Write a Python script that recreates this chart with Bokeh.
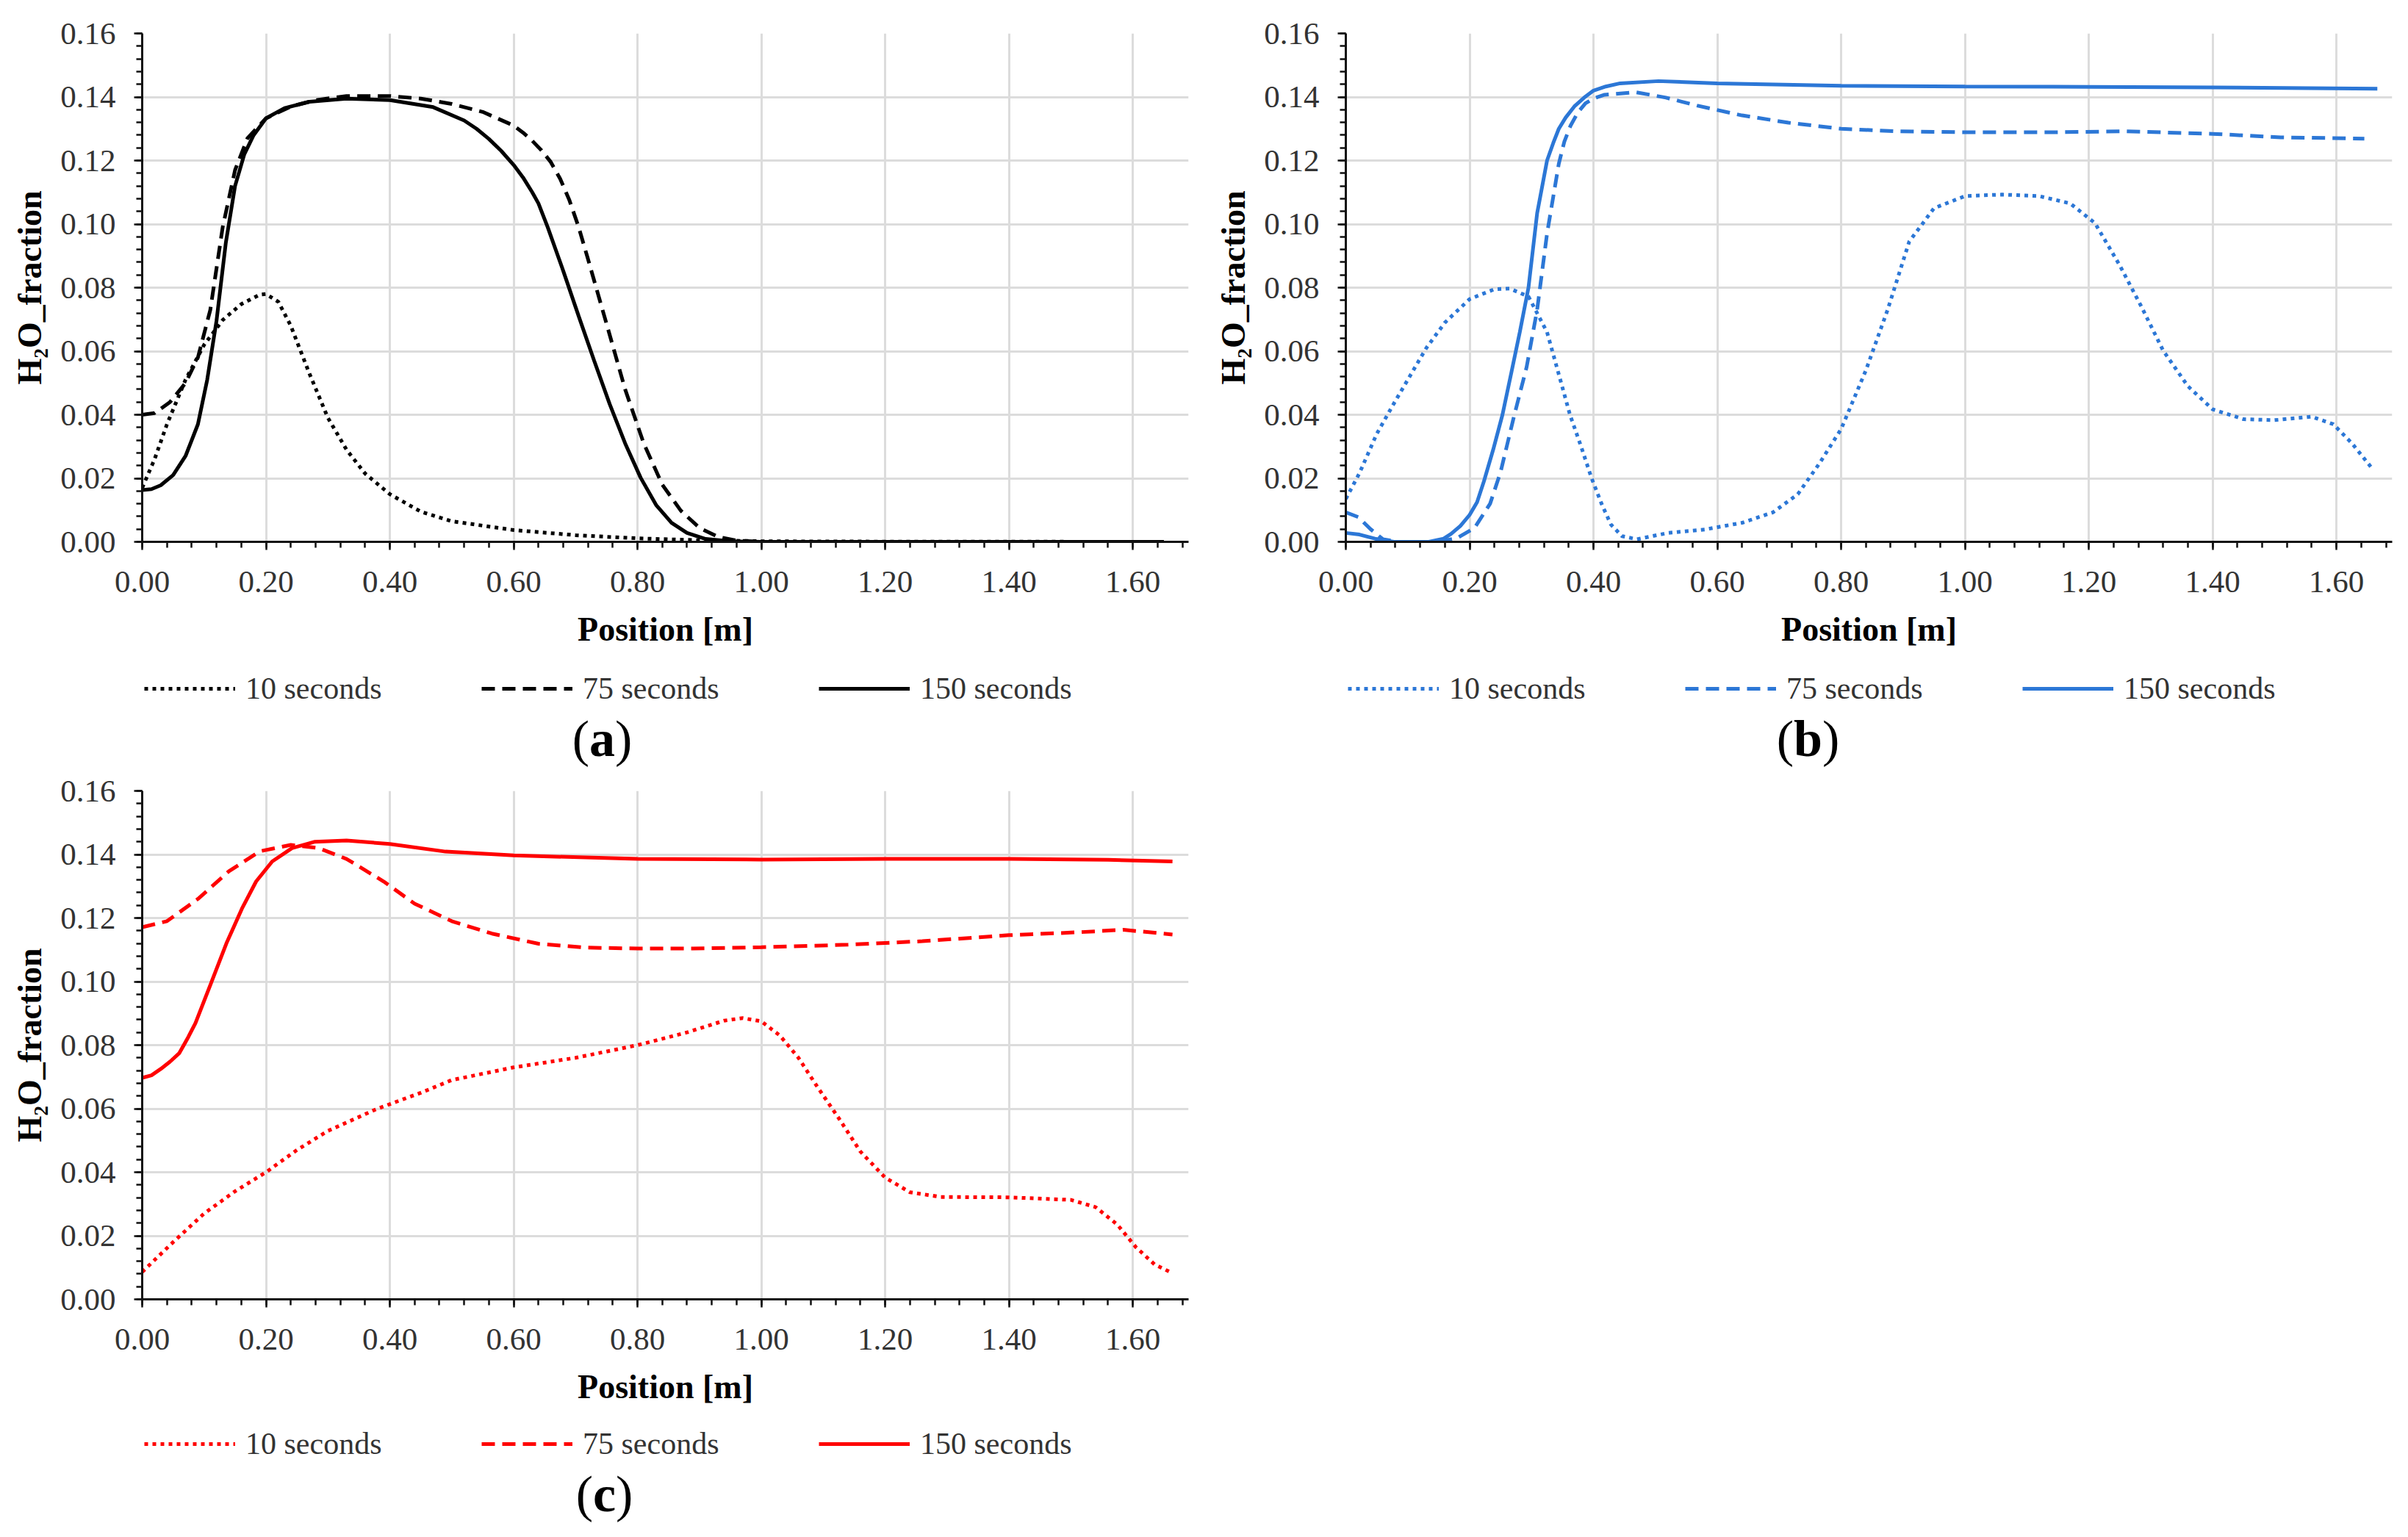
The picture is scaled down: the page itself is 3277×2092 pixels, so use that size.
from bokeh.plotting import figure
from bokeh.models import (Range1d, SingleIntervalTicker, NumeralTickFormatter,
                          Legend, LegendItem)
from bokeh.layouts import column, row
from bokeh.core.properties import value
from bokeh.embed import file_html
from bokeh.resources import INLINE

# ---------------- data ----------------
series_labels = ["10 seconds", "75 seconds", "150 seconds"]
x_ticks_interval = 0.2
y_ticks_interval = 0.02

# panel (a)
xa_10 = [0, 0.02, 0.04, 0.07, 0.10, 0.13, 0.16, 0.19, 0.20, 0.22, 0.24, 0.27, 0.30, 0.33, 0.36,
         0.40, 0.45, 0.50, 0.60, 0.70, 0.80, 0.90, 1.00, 1.10, 1.65]
ya_10 = [0.017, 0.026, 0.037, 0.051, 0.062, 0.0698, 0.0748, 0.0778, 0.078, 0.0755, 0.068, 0.053,
         0.039, 0.029, 0.0215, 0.015, 0.0095, 0.0065, 0.0037, 0.0021, 0.0011, 0.0005, 0.0002, 0.0001, 0.0]
xa_75 = [0, 0.02, 0.045, 0.07, 0.09, 0.11, 0.13, 0.15, 0.17, 0.20, 0.24, 0.28, 0.33, 0.40, 0.45,
         0.50, 0.55, 0.60, 0.615, 0.63, 0.645, 0.66, 0.675, 0.69, 0.705, 0.72, 0.75, 0.78, 0.81,
         0.84, 0.87, 0.90, 0.93, 0.96, 1.00, 1.65]
ya_75 = [0.040, 0.0405, 0.044, 0.050, 0.058, 0.073, 0.099, 0.117, 0.127, 0.1333, 0.137, 0.139,
         0.1403, 0.1403, 0.1395, 0.1378, 0.1353, 0.131, 0.1288, 0.1262, 0.1232, 0.1195, 0.1143,
         0.1075, 0.099, 0.089, 0.0686, 0.048, 0.031, 0.018, 0.0098, 0.0044, 0.0016, 0.0004, 0.0, 0.0]
xa_150 = [0, 0.015, 0.03, 0.05, 0.07, 0.09, 0.105, 0.12, 0.135, 0.15, 0.165, 0.18, 0.20, 0.23,
          0.27, 0.33, 0.40, 0.47, 0.52, 0.54, 0.56, 0.58, 0.60, 0.615, 0.63, 0.64, 0.655, 0.68,
          0.705, 0.73, 0.755, 0.78, 0.805, 0.83, 0.855, 0.88, 0.91, 0.95, 1.00, 1.65]
ya_150 = [0.0163, 0.0166, 0.0178, 0.021, 0.027, 0.037, 0.051, 0.0695, 0.094, 0.112, 0.122, 0.128,
          0.1333, 0.1365, 0.1385, 0.1395, 0.139, 0.1368, 0.1326, 0.130, 0.1268, 0.123, 0.1186,
          0.1147, 0.110, 0.1065, 0.099, 0.0853, 0.071, 0.057, 0.0434, 0.031, 0.0202, 0.0116,
          0.006, 0.0028, 0.0009, 0.0002, 0.0, 0.0]

# panel (b)
xb_10 = [0, 0.022, 0.05, 0.076, 0.10, 0.13, 0.16, 0.20, 0.24, 0.265, 0.295, 0.325, 0.345, 0.362,
         0.38, 0.397, 0.413, 0.428, 0.446, 0.47, 0.52, 0.58, 0.64, 0.69, 0.73, 0.765, 0.80, 0.84,
         0.875, 0.91, 0.95, 1.00, 1.06, 1.12, 1.17, 1.21, 1.25, 1.285, 1.32, 1.36, 1.40, 1.45,
         1.50, 1.56, 1.595, 1.625, 1.658]
yb_10 = [0.0135, 0.0216, 0.034, 0.043, 0.051, 0.061, 0.069, 0.0764, 0.0795, 0.0797, 0.0772, 0.066,
         0.052, 0.040, 0.030, 0.020, 0.012, 0.0055, 0.0018, 0.0008, 0.0028, 0.0039, 0.006, 0.0093,
         0.015, 0.0247, 0.0355, 0.054, 0.073, 0.0945, 0.105, 0.1088, 0.1093, 0.1088, 0.1065,
         0.1003, 0.087, 0.074, 0.0602, 0.049, 0.0417, 0.0386, 0.0383, 0.0394, 0.037, 0.031, 0.023]
xb_75 = [0, 0.02, 0.04, 0.06, 0.085, 0.15, 0.18, 0.208, 0.233, 0.25, 0.271, 0.292, 0.309, 0.325,
         0.344, 0.353, 0.363, 0.375, 0.387, 0.40, 0.418, 0.468, 0.517, 0.567, 0.64, 0.715, 0.80,
         0.89, 1.00, 1.14, 1.26, 1.40, 1.51, 1.645]
yb_75 = [0.0093, 0.0078, 0.004, 0.0008, 0.0, 0.0, 0.0012, 0.0044, 0.012, 0.022, 0.039, 0.055,
         0.073, 0.097, 0.119, 0.126, 0.131, 0.1352, 0.138, 0.1395, 0.1407, 0.1415, 0.1398, 0.1373,
         0.1342, 0.1319, 0.130, 0.1292, 0.1289, 0.1289, 0.1292, 0.1284, 0.1273, 0.1269]
xb_150 = [0, 0.022, 0.047, 0.078, 0.134, 0.158, 0.17, 0.185, 0.20, 0.212, 0.223, 0.238, 0.253,
          0.266, 0.281, 0.295, 0.309, 0.325, 0.335, 0.344, 0.355, 0.369, 0.385, 0.40, 0.42,
          0.443, 0.505, 0.60, 0.80, 1.00, 1.20, 1.40, 1.666]
yb_150 = [0.0028, 0.0023, 0.001, 0.0, 0.0, 0.001, 0.0025, 0.005, 0.0085, 0.0125, 0.019, 0.029,
          0.040, 0.052, 0.066, 0.080, 0.1034, 0.120, 0.1255, 0.130, 0.1335, 0.137, 0.1398, 0.142,
          0.1433, 0.1443, 0.145, 0.1443, 0.1435, 0.1433, 0.1432, 0.143, 0.1426]

# panel (c)
xc_10 = [0, 0.05, 0.10, 0.15, 0.20, 0.25, 0.30, 0.38, 0.45, 0.50, 0.60, 0.70, 0.80, 0.88, 0.94,
         0.97, 1.00, 1.03, 1.06, 1.09, 1.125, 1.16, 1.20, 1.24, 1.29, 1.40, 1.50, 1.54, 1.575,
         1.605, 1.635, 1.66]
yc_10 = [0.0086, 0.018, 0.027, 0.034, 0.040, 0.047, 0.053, 0.060, 0.065, 0.069, 0.073, 0.076,
         0.080, 0.084, 0.0877, 0.0885, 0.0875, 0.083, 0.076, 0.067, 0.057, 0.0465, 0.0383, 0.0337,
         0.0322, 0.0321, 0.0313, 0.029, 0.0235, 0.0164, 0.011, 0.0086]
xc_75 = [0, 0.04, 0.09, 0.14, 0.19, 0.24, 0.285, 0.33, 0.39, 0.44, 0.50, 0.565, 0.64, 0.715, 0.80,
         0.89, 1.00, 1.14, 1.26, 1.40, 1.51, 1.585, 1.664]
yc_75 = [0.1171, 0.119, 0.126, 0.1347, 0.141, 0.143, 0.142, 0.1386, 0.1315, 0.1245, 0.119, 0.1151,
         0.1119, 0.1107, 0.1104, 0.1104, 0.1108, 0.1116, 0.1127, 0.1146, 0.1155, 0.1163, 0.1148]
xc_150 = [0, 0.015, 0.03, 0.045, 0.06, 0.073, 0.086, 0.111, 0.136, 0.161, 0.184, 0.21, 0.242,
          0.279, 0.33, 0.40, 0.49, 0.60, 0.80, 1.00, 1.20, 1.40, 1.56, 1.664]
yc_150 = [0.0697, 0.0705, 0.0725, 0.0748, 0.0775, 0.082, 0.0869, 0.0994, 0.112, 0.1229, 0.1315,
          0.1378, 0.142, 0.144, 0.1444, 0.1433, 0.1409, 0.1397, 0.1386, 0.1384, 0.1386, 0.1386,
          0.1383, 0.1378]

panel_letters = ["a", "b", "c"]
panel_colors = ["#000000", "#2c77d6", "#ff0000"]
panel_series = [
    [(xa_10, ya_10), (xa_75, ya_75), (xa_150, ya_150)],
    [(xb_10, yb_10), (xb_75, yb_75), (xb_150, yb_150)],
    [(xc_10, yc_10), (xc_75, yc_75), (xc_150, yc_150)],
]

# ---------------- styling ----------------
FONT = "Liberation Serif"
DASHES = ["5 6", "18 10", "solid"]
LINE_W = 5
FRAME_W, FRAME_H = 1424, 692
X_MAX, Y_MAX = 1.69, 0.16
BOTTOM = 160
CAP_FONT = 70
letter_w = {"a": 35, "b": 39, "c": 31}


def make_panel(color, series, left, right, top):
    p = figure(frame_width=FRAME_W, frame_height=FRAME_H,
               x_range=Range1d(0, X_MAX), y_range=Range1d(0, Y_MAX),
               min_border_left=left, min_border_right=right,
               min_border_top=top, min_border_bottom=BOTTOM,
               output_backend="svg", toolbar_location=None,
               background_fill_color="white", border_fill_color="white")
    p.outline_line_color = None

    p.xaxis.ticker = SingleIntervalTicker(interval=x_ticks_interval, num_minor_ticks=5)
    p.yaxis.ticker = SingleIntervalTicker(interval=y_ticks_interval, num_minor_ticks=5)
    p.xaxis.formatter = NumeralTickFormatter(format="0.00")
    p.yaxis.formatter = NumeralTickFormatter(format="0.00")
    for ax in (p.xaxis[0], p.yaxis[0]):
        ax.axis_line_color = "#111111"
        ax.axis_line_width = 3
        ax.major_tick_in = 0
        ax.major_tick_out = 11
        ax.minor_tick_in = 0
        ax.minor_tick_out = 8
        ax.major_tick_line_color = "#111111"
        ax.minor_tick_line_color = "#111111"
        ax.major_tick_line_width = 2.5
        ax.minor_tick_line_width = 2.5
        ax.major_label_text_font = FONT
        ax.major_label_text_font_size = "43px"
        ax.major_label_text_color = "#333333"
        ax.axis_label_text_font = FONT
        ax.axis_label_text_font_style = "bold"
        ax.axis_label_text_font_size = "46px"
        ax.axis_label_text_color = "#000000"
    p.xaxis.axis_label = "Position [m]"
    p.xaxis.major_label_standoff = 29
    p.xaxis.axis_label_standoff = 22
    p.yaxis.axis_label = "H\u2082O_fraction"
    p.yaxis.major_label_standoff = 25
    p.yaxis.axis_label_standoff = 13
    p.yaxis.major_label_orientation = "horizontal"

    p.xgrid.grid_line_color = "#dcdcdc"
    p.ygrid.grid_line_color = "#dcdcdc"
    p.xgrid.grid_line_width = 3
    p.ygrid.grid_line_width = 3

    for (xs, ys), dash in zip(series, DASHES):
        p.line(xs, ys, line_color=color, line_width=LINE_W, line_dash=dash)
    return p


def make_caption(letter, color, width, height, cx, mid_y, leg_x, leg_y):
    c = figure(frame_width=width, frame_height=height,
               x_range=Range1d(0, width), y_range=Range1d(0, height),
               x_axis_type=None, y_axis_type=None,
               min_border_left=0, min_border_right=0, min_border_top=0, min_border_bottom=0,
               output_backend="svg", toolbar_location=None,
               background_fill_color="white", border_fill_color="white")
    c.outline_line_color = None
    c.xgrid.visible = False
    c.ygrid.visible = False

    # legend sample renderers: styled like the curves, placed outside the visible range
    items = []
    for dash, lab in zip(DASHES, series_labels):
        r = c.line(x=[-20, -10], y=[-20, -10], line_color=color, line_width=LINE_W,
                   line_dash=dash)
        items.append(LegendItem(label=lab, renderers=[r]))
    legend = Legend(items=items, orientation="horizontal", location=(leg_x, leg_y),
                    glyph_width=124, glyph_height=20, label_standoff=14,
                    label_width=215, spacing=106, padding=3, margin=0,
                    label_text_font=FONT, label_text_font_size="42px",
                    label_text_color="#333333",
                    background_fill_alpha=0, border_line_color=None)
    c.add_layout(legend, "center")

    w = letter_w[letter]
    c.text(x=[cx], y=[mid_y], text=[letter], text_font=value(FONT), text_font_style="bold",
           text_font_size=f"{CAP_FONT}px", text_align="center", text_baseline="middle",
           text_color="#000000")
    c.text(x=[cx], y=[mid_y], x_offset=-w / 2, text=["("], text_font=value(FONT),
           text_font_size=f"{CAP_FONT}px", text_align="right", text_baseline="middle",
           text_color="#000000")
    c.text(x=[cx], y=[mid_y], x_offset=w / 2, text=[")"], text_font=value(FONT),
           text_font_size=f"{CAP_FONT}px", text_align="left", text_baseline="middle",
           text_color="#000000")
    return c


LEFT_A, RIGHT_A = 193, 29
LEFT_B, RIGHT_B = 185, 10
W_A = LEFT_A + FRAME_W + RIGHT_A
W_B = LEFT_B + FRAME_W + RIGHT_B

pa = make_panel(panel_colors[0], panel_series[0], LEFT_A, RIGHT_A, 45)
pb = make_panel(panel_colors[1], panel_series[1], LEFT_B, RIGHT_B, 45)
pc = make_panel(panel_colors[2], panel_series[2], LEFT_A, RIGHT_A, 31)

# caption frames are aligned with the plot frames above them, so x is frame-relative
ca = make_caption(panel_letters[0], panel_colors[0], W_A, 148, 819 - LEFT_A, 40, 196, 84)
cb = make_caption(panel_letters[1], panel_colors[1], W_B, 148, 814 - LEFT_B, 40, 188, 84)
cc = make_caption(panel_letters[2], panel_colors[2], W_A, 150, 822 - LEFT_A, 45, 196, 89)

layout = column(row(column(pa, ca), column(pb, cb)), column(pc, cc))
open("out.html", "w").write(file_html(layout, INLINE))
